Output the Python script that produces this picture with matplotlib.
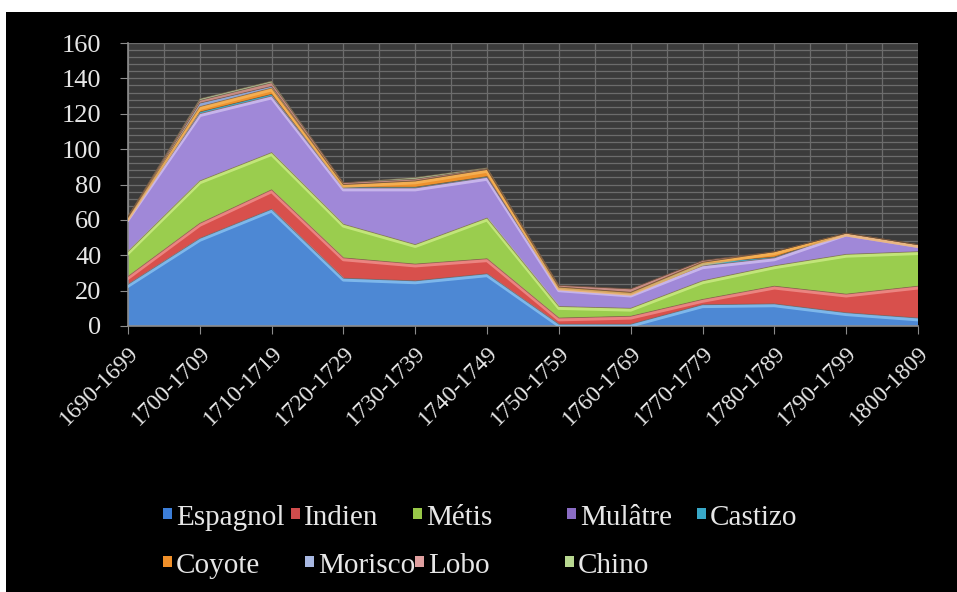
import matplotlib
matplotlib.use("Agg")
import matplotlib.pyplot as plt
from matplotlib.patches import Rectangle
import numpy as np

# ---- data -----------------------------------------------------------------
periods = ["1690-1699", "1700-1709", "1710-1719", "1720-1729", "1730-1739",
           "1740-1749", "1750-1759", "1760-1769", "1770-1779", "1780-1789",
           "1790-1799", "1800-1809"]
espagnol = [23.5, 49.5, 66, 27, 25.5, 29.5, 1, 1, 12, 12.5, 7.5, 4.5]
indien = [4.5, 8.5, 11, 11.5, 9.5, 8.5, 3.5, 4.5, 3, 10, 10.5, 18]
metis = [14, 24, 21, 19, 11, 23, 6.5, 4.5, 10.5, 11.5, 22.5, 19.5]
mulatre = [19, 38, 32, 20.5, 32, 23, 10, 8, 8.5, 4.5, 12, 4]
castizo = [0.5, 1, 1, 0.5, 0.5, 0.5, 0.5, 0.5, 1.5, 0.5, 0, 0]
coyote = [0, 3, 3.5, 1.5, 3.5, 4, 0.5, 0.5, 0.5, 3, 0, 0]
morisco = [0, 2, 1, 0, 0, 0, 0, 0, 0, 0, 0, 0]
lobo = [0.5, 1.5, 2, 1, 1, 0.5, 1, 2, 1, 0, 0, 0]
chino = [0, 1, 1, 0, 1, 0.5, 0, 0, 0, 0, 0, 0]

names = ["Espagnol", "Indien", "Métis", "Mulâtre", "Castizo",
         "Coyote", "Morisco", "Lobo", "Chino"]
series = [espagnol, indien, metis, mulatre, castizo, coyote, morisco, lobo, chino]
fills = ["#4d88d4", "#d8504c", "#9acd4e", "#a088d8", "#3ab0d0",
         "#ee922c", "#8ea6d6", "#c88c84", "#a8b890"]
tops = ["#8ec8f4", "#f29692", "#d0ee88", "#d4c4f2", None,
        "#f6b860", None, None, None]
legend_cols = ["#3c7ed8", "#d04c4c", "#98c848", "#8a6cc4", "#38a8c8",
               "#f0902a", "#a8b8e2", "#e0a0a0", "#b8d890"]

FONT = "Liberation Serif"
TXT = "#e6e6e6"

fig = plt.figure(figsize=(9.57, 5.92), dpi=100, facecolor="white")
fig.patches.append(Rectangle((6 / 957, 0), 1, 1 - 12 / 592, transform=fig.transFigure,
                             facecolor="black", edgecolor="none", zorder=-10))

ax = fig.add_axes([128 / 957, 1 - 326 / 592, 790 / 957, 283 / 592])
ax.set_facecolor("#3b3b3b")

x = np.arange(len(periods))
polys = ax.stackplot(x, *series, colors=fills, linewidth=0, zorder=2)
# lighter top edge for the bevelled look of the main bands
cum = np.cumsum(np.array(series, dtype=float), axis=0)
for i in range(len(series)):
    if tops[i] is not None:
        ax.plot(x, cum[i] - 0.9, color=tops[i], lw=2.5, alpha=0.75, zorder=3,
                solid_joinstyle="round")
    ax.plot(x, cum[i], color="#6a4e3a", lw=0.6, alpha=0.6, zorder=3)

ax.set_xlim(0, len(periods) - 1)
ax.set_ylim(0, 160)
ax.set_yticks(range(0, 161, 20))
ax.set_yticks(range(0, 161, 4), minor=True)
ax.set_xticks(x)
ax.set_xticks(x[:-1] + 0.5, minor=True)
ax.grid(which="both", color="#6c6c6c", lw=0.9, zorder=1)
ax.set_axisbelow(True)

ax.set_xticklabels(periods, rotation=45, ha="right", rotation_mode="anchor",
                   fontsize=17, color=TXT, family=FONT)
ax.set_yticklabels([str(v) for v in range(0, 161, 20)], fontsize=19, color=TXT,
                   family=FONT)
ax.tick_params(which="major", length=6, color="#8c8c8c")
ax.tick_params(axis="y", which="major", pad=13)
ax.tick_params(axis="x", which="major", pad=6)
ax.tick_params(which="minor", length=0)
for s in ["top", "right"]:
    ax.spines[s].set_visible(False)
for s in ["left", "bottom"]:
    ax.spines[s].set_color("#8c8c8c")
    ax.spines[s].set_linewidth(1.2)

# legend laid out like the Excel one (two rows)
leg_x = [168, 296, 418, 572, 702, 168, 310, 420, 570]
leg_y = [518, 518, 518, 518, 518, 566, 566, 566, 566]
for name, c, lx, ly in zip(names, legend_cols, leg_x, leg_y):
    fig.patches.append(Rectangle(((lx - 5) / 957, 1 - (ly + 1) / 592), 9 / 957, 11 / 592,
                                 transform=fig.transFigure, facecolor=c,
                                 edgecolor="none", zorder=3))
    fig.text((lx + 8) / 957, 1 - ly / 592, name, fontsize=21, color=TXT,
             family=FONT, va="center", ha="left")

fig.savefig("out.png", dpi=100, facecolor=fig.get_facecolor())
